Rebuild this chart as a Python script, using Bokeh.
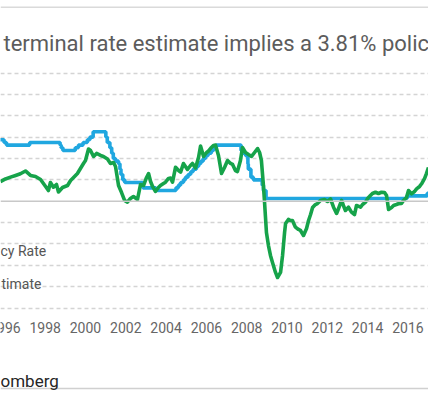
from bokeh.plotting import figure
from bokeh.models import FixedTicker, Span, Label, Range1d
from bokeh.core.properties import value
from bokeh.embed import file_html
from bokeh.resources import INLINE

# Policy rate (step changes): date (fractional year), level in %
rate_dates = [1995.50, 1995.96, 1996.08, 1997.23, 1998.74, 1998.79, 1998.88, 1999.49, 1999.65,
              1999.88, 2000.09, 2000.22, 2000.38, 2001.01, 2001.08, 2001.21, 2001.30, 2001.38,
              2001.49, 2001.64, 2001.71, 2001.76, 2001.85, 2001.95, 2002.85, 2003.49, 2004.49,
              2004.61, 2004.72, 2004.86, 2004.96, 2005.09, 2005.22, 2005.34, 2005.50, 2005.61,
              2005.72, 2005.84, 2005.96, 2006.08, 2006.24, 2006.36, 2006.49, 2007.72, 2007.83,
              2007.95, 2008.06, 2008.08, 2008.21, 2008.33, 2008.77, 2008.83, 2008.96, 2015.96,
              2016.96, 2017.20]
rate_levels = [5.75, 5.50, 5.25, 5.50, 5.25, 5.00, 4.75, 5.00, 5.25,
               5.50, 5.75, 6.00, 6.50, 6.00, 5.50, 5.00, 4.50, 4.00,
               3.75, 3.50, 3.00, 2.50, 2.00, 1.75, 1.25, 1.00, 1.25,
               1.50, 1.75, 2.00, 2.25, 2.50, 2.75, 3.00, 3.25, 3.50,
               3.75, 4.00, 4.25, 4.50, 4.75, 5.00, 5.25, 4.75, 4.50,
               4.25, 3.50, 3.00, 2.25, 2.00, 1.50, 1.00, 0.25, 0.50,
               0.75, 0.75]

# Terminal rate estimate (%)
est_years = [1995.78, 1996.03, 1996.28, 1996.53, 1996.77, 1997.02, 1997.27, 1997.52, 1997.77, 1998.02,
             1998.16, 1998.26, 1998.41, 1998.56, 1998.66, 1998.86, 1999.11, 1999.26, 1999.36, 1999.60,
             1999.75, 1999.90, 2000.00, 2000.15, 2000.25, 2000.40, 2000.55, 2000.75, 2000.89, 2001.09,
             2001.24, 2001.39, 2001.49, 2001.64, 2001.79, 2001.94, 2002.08, 2002.23, 2002.38, 2002.58,
             2002.73, 2002.88, 2003.03, 2003.13, 2003.23, 2003.33, 2003.47, 2003.62, 2003.72, 2003.87,
             2003.97, 2004.12, 2004.22, 2004.32, 2004.47, 2004.62, 2004.72, 2004.86, 2004.96, 2005.06,
             2005.21, 2005.31, 2005.46, 2005.61, 2005.71, 2005.86, 2006.01, 2006.11, 2006.25, 2006.35,
             2006.45, 2006.60, 2006.75, 2006.90, 2007.05, 2007.20, 2007.30, 2007.44, 2007.54, 2007.69,
             2007.79, 2007.94, 2008.09, 2008.24, 2008.39, 2008.54, 2008.64, 2008.73, 2008.83, 2008.88,
             2008.98, 2009.08, 2009.18, 2009.28, 2009.43, 2009.53, 2009.68, 2009.78, 2009.88, 2009.93,
             2010.07, 2010.17, 2010.27, 2010.42, 2010.57, 2010.67, 2010.82, 2010.97, 2011.07, 2011.17,
             2011.27, 2011.41, 2011.51, 2011.66, 2011.86, 2012.01, 2012.16, 2012.31, 2012.46, 2012.56,
             2012.71, 2012.80, 2012.90, 2013.05, 2013.20, 2013.35, 2013.45, 2013.65, 2013.75, 2013.90,
             2014.00, 2014.14, 2014.24, 2014.39, 2014.54, 2014.69, 2014.84, 2014.94, 2015.04, 2015.19,
             2015.29, 2015.43, 2015.53, 2015.68, 2015.78, 2015.93, 2016.03, 2016.18, 2016.33, 2016.43,
             2016.58, 2016.68, 2016.83, 2016.92, 2017.02]
est_values = [1.84, 2.08, 2.25, 2.41, 2.57, 2.83, 2.41, 2.31, 2.03, 1.38,
              1.00, 1.75, 1.31, 1.56, 0.86, 1.28, 1.47, 1.94, 2.13, 2.59,
              3.06, 3.53, 3.81, 4.89, 4.75, 4.19, 4.47, 4.28, 4.19, 3.95,
              3.53, 3.62, 3.25, 1.47, 0.81, 0.07, -0.09, 0.25, 0.44, 0.16,
              1.56, 1.47, 2.22, 2.59, 1.84, 1.38, 0.91, 1.28, 1.47, 1.66,
              1.78, 2.13, 2.17, 1.78, 3.18, 2.87, 2.72, 3.53, 3.25, 2.97,
              3.34, 3.53, 3.11, 4.09, 5.17, 4.19, 4.56, 4.70, 5.03, 5.22,
              5.26, 4.28, 2.59, 3.16, 3.81, 3.53, 3.44, 2.87, 2.78, 3.81,
              5.03, 4.56, 4.37, 4.19, 4.56, 4.93, 4.56, 3.81, 1.47, 0.07,
              -2.93, -4.15, -5.08, -5.74, -6.67, -7.14, -6.67, -5.08, -2.93, -2.09,
              -1.71, -1.81, -1.81, -2.43, -2.65, -2.74, -3.21, -2.56, -1.81, -1.25,
              -0.59, -0.31, -0.22, 0.07, 0.16, -0.03, 0.21, -0.56, -1.15, -0.68,
              0.07, -0.40, -0.87, -0.56, -1.03, -1.25, -0.40, -0.56, -0.31, -0.09,
              0.25, 0.53, 0.72, 0.84, 0.72, 0.84, 0.81, 0.53, -0.78, -0.59,
              -0.40, -0.31, -0.24, -0.22, 0.07, 0.35, 1.00, 0.69, 0.91, 1.16,
              1.38, 1.63, 2.13, 2.59, 3.16]

year_ticks = [1996, 1998, 2000, 2002, 2004, 2006, 2008, 2010, 2012, 2014, 2016]
year_labels = [str(y) for y in year_ticks]
grid_levels = [-10, -8, -6, -4, -2, 2, 4, 6, 8, 10, 12]

title_text = "terminal rate estimate implies a 3.81% polic"
legend_texts = ["cy Rate", "timate"]
source_text = "omberg"

FONT = "Roboto"
PX_PER_YEAR = 20.15
X0 = 1995.782
X1 = X0 + 428 / PX_PER_YEAR
Y1, Y0 = 18.79, -18.66


def xs(px):
    """x position (years) of a horizontal pixel offset from the left edge"""
    return X0 + px / PX_PER_YEAR


p = figure(width=428, height=400, output_backend="svg", toolbar_location=None,
           x_range=Range1d(X0, X1), y_range=Range1d(Y0, Y1),
           min_border_left=0, min_border_right=0, min_border_top=0, min_border_bottom=0,
           background_fill_color="white", border_fill_color="white")
p.outline_line_color = None
p.xaxis.visible = False
p.yaxis.visible = False
p.xgrid.visible = False
p.ygrid.ticker = FixedTicker(ticks=grid_levels)
p.ygrid.grid_line_color = "#d4d4d4"
p.ygrid.grid_line_width = 1.5
p.ygrid.grid_line_dash = "4 3"

# zero line and the two thin rules framing the graphic
p.add_layout(Span(location=0, dimension="width", line_color="#c8c8c8", line_width=1.5))
p.add_layout(Span(location=18.16, dimension="width", line_color="#dadada", line_width=1.5))
p.add_layout(Span(location=-17.54, dimension="width", line_color="#d0d0d0", line_width=1.5))

p.step(rate_dates, rate_levels, mode="after", line_color="#20a7e0", line_width=3.6)
p.line(est_years, est_values, line_color="#16a34a", line_width=3.6, line_join="round")

# year labels along the bottom
p.text(x=year_ticks, y=[-11.83] * len(year_ticks), text=year_labels,
       text_font=value(FONT), text_font_size="14px", text_color="#666666",
       text_align="center", text_baseline="middle")

p.add_layout(Label(x=xs(3), y=14.74, text=title_text, text_font=FONT,
                   text_font_size="22px", text_color="#5c5c5c", text_baseline="alphabetic"))
p.add_layout(Label(x=xs(0), y=-4.62, text=legend_texts[0], text_font=FONT,
                   text_font_size="14px", text_color="#555555", text_baseline="middle"))
p.add_layout(Label(x=xs(1), y=-7.71, text=legend_texts[1], text_font=FONT,
                   text_font_size="14px", text_color="#555555", text_baseline="middle"))
p.add_layout(Label(x=xs(0), y=-16.79, text=source_text, text_font=FONT,
                   text_font_size="17px", text_color="#262626", text_baseline="alphabetic"))

open("out.html", "w").write(file_html(p, INLINE))
